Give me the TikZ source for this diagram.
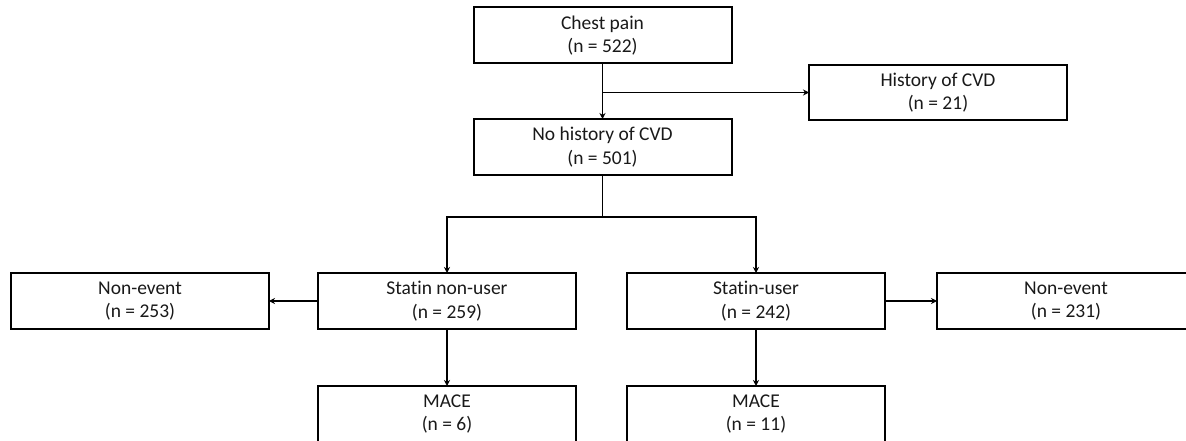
\documentclass[tikz,border=0pt]{standalone}
\usepackage{fontspec}
\setmainfont[Ligatures={NoCommon}]{Carlito}
\usepackage{tikz}
\usetikzlibrary{arrows.meta}

\begin{document}
\begin{tikzpicture}[x=1pt, y=-1pt,
        box/.style={rectangle, draw, line width=2pt, minimum width=258pt, minimum height=56pt, align=center, inner sep=0pt, outer sep=0pt, font=\fontsize{19.5}{23.5}\selectfont, text=black!90},
        arrow/.style={-{Stealth[length=6pt,width=6pt]}, line width=1.6pt},
        line/.style={line width=1.6pt}
    ]
    \useasboundingbox (0,0) rectangle (1186,441);
    \node[box] (chest) at (602.5,35.5) {Chest pain\\(n = 522)};
    \node[box, minimum height=55pt] (history) at (938,92.5) {History of CVD\\(n = 21)};
    \node[box] (nohist) at (602.5,147) {No history of CVD\\(n = 501)};
    \node[box] (nonuser) at (447,301) {Statin non-user\\(n = 259)};
    \node[box] (user) at (756,301) {Statin-user\\(n = 242)};
    \node[box] (neventL) at (140,301) {Non-event\\(n = 253)};
    \node[box] (neventR) at (1066,301) {Non-event\\(n = 231)};
    \node[box] (maceL) at (447,414) {MACE\\(n = 6)};
    \node[box] (maceR) at (756,414) {MACE\\(n = 11)};

    \coordinate (branch) at (chest.south |- history.west);
    \coordinate (split) at (602.5,217);

    \draw[arrow] (chest) -- (nohist);
    \draw[arrow] (branch) -- (history);
    \draw[line] (nohist) -- (split);
    \draw[arrow] (split) -| (nonuser);
    \draw[arrow] (split) -| (user);
    \draw[arrow] (nonuser) -- (neventL);
    \draw[arrow] (user) -- (neventR);
    \draw[arrow] (nonuser) -- (maceL);
    \draw[arrow] (user) -- (maceR);
\end{tikzpicture}
\end{document}
